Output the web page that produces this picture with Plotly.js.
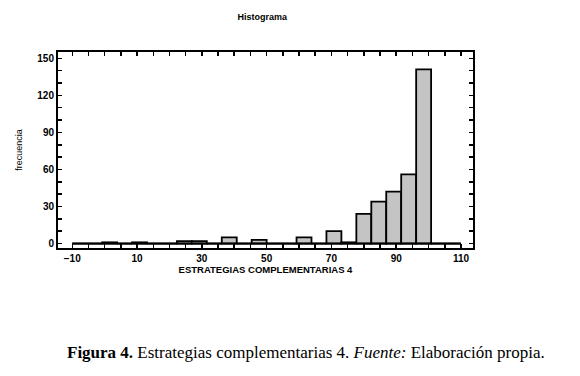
<!DOCTYPE html>
<html>
<head>
<meta charset="utf-8">
<script src="https://cdn.plot.ly/plotly-3.0.1.min.js"></script>
<style>html,body{margin:0;padding:0;background:#fff;}#chart{width:580px;height:376px;}</style>
</head>
<body>
<div id="chart"></div>
<script>
// Histogram bins: 26 equal-width classes from -10 to 110
const binLow = -10;
const binHigh = 110;
const counts = [0, 0, 1, 0, 1, 0, 0, 2, 2, 0, 5, 0, 3, 0, 0, 5, 0, 10, 1, 24, 34, 42, 56, 141, 0, 0];
const xTickVals = [-10, 10, 30, 50, 70, 90, 110];
const yTickVals = [0, 30, 60, 90, 120, 150];

const nBins = counts.length;
const binWidth = (binHigh - binLow) / nBins;
const centers = counts.map((_, i) => binLow + binWidth * (i + 0.5));

const bars = {
  type: 'bar',
  x: centers,
  y: counts,
  width: binWidth,
  marker: {color: '#c4c4c4', line: {color: '#000', width: 1.8}},
  hoverinfo: 'x+y',
  showlegend: false
};
const baseline = {
  type: 'scatter',
  mode: 'lines',
  x: [binLow, binHigh],
  y: [0, 0],
  line: {color: '#000', width: 2},
  hoverinfo: 'skip',
  showlegend: false
};

const tickFont = {family: 'Liberation Sans, Arial, sans-serif', size: 10, color: '#000', weight: 'bold'};

const layout = {
  width: 580, height: 376,
  margin: {l: 58, r: 107, t: 52, b: 128},
  paper_bgcolor: '#fff', plot_bgcolor: '#fff',
  bargap: 0,
  title: {
    text: 'Histograma',
    font: {family: 'Liberation Sans, Arial, sans-serif', size: 9, color: '#000', weight: 'bold'},
    xref: 'container', x: 0.452, xanchor: 'center',
    yref: 'container', y: 1 - 17/376, yanchor: 'middle'
  },
  xaxis: {
    range: [-14.4, 113.7],
    tickvals: xTickVals,
    ticks: 'inside', ticklen: 4, tickwidth: 1.5, tickcolor: '#000',
    minor: {dtick: 5, tick0: -10, ticks: 'inside', ticklen: 4, tickwidth: 1.5, tickcolor: '#000'},
    showline: true, linecolor: '#000', linewidth: 2, mirror: 'ticks',
    showgrid: false, zeroline: false,
    tickfont: tickFont,
    title: {text: 'ESTRATEGIAS COMPLEMENTARIAS 4', font: {family: 'Liberation Sans, Arial, sans-serif', size: 9.5, color: '#000', weight: 'bold'}, standoff: 3}
  },
  yaxis: {
    range: [-3.6, 155.1],
    tickvals: yTickVals,
    ticks: 'inside', ticklen: 4, tickwidth: 1.5, tickcolor: '#000',
    minor: {dtick: 10, tick0: 0, ticks: 'inside', ticklen: 4, tickwidth: 1.5, tickcolor: '#000'},
    showline: true, linecolor: '#000', linewidth: 2, mirror: 'ticks',
    showgrid: false, zeroline: false,
    tickfont: tickFont,
    title: {text: 'frecuencia', font: {family: 'Liberation Sans, Arial, sans-serif', size: 9, color: '#000'}, standoff: 13}
  },
  annotations: [{
    text: '<b>Figura 4.</b> Estrategias complementarias 4. <i>Fuente:</i> Elaboración propia.',
    xref: 'paper', yref: 'paper',
    x: (305.5 - 58) / 415, xanchor: 'center',
    y: (376 - 128 - 352) / 196, yanchor: 'middle',
    showarrow: false,
    font: {family: 'Liberation Serif, Times New Roman, serif', size: 17, color: '#000'}
  }]
};

Plotly.newPlot('chart', [bars, baseline], layout, {displayModeBar: false, staticPlot: true});
</script>
</body>
</html>
